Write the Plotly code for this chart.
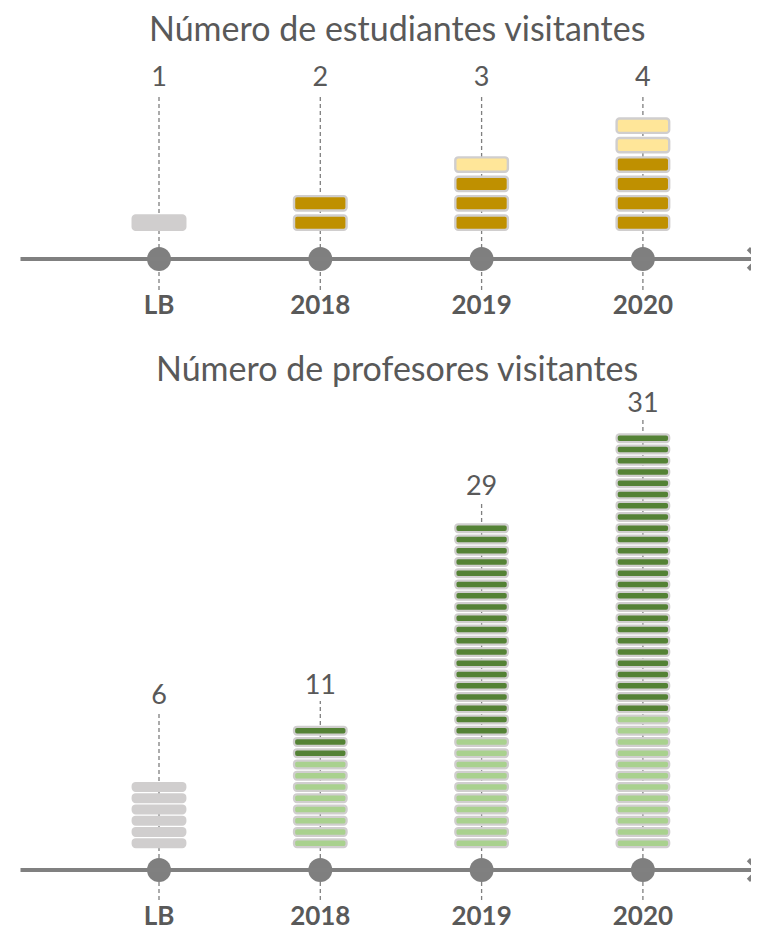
import plotly.graph_objects as go

# ---------------- data ----------------
categories = ["LB", "2018", "2019", "2020"]

# Número de estudiantes visitantes
est_labels = [1, 2, 3, 4]
est_gray = [1, 0, 0, 0]     # línea base
est_dark = [0, 2, 3, 4]
est_light = [0, 0, 1, 2]

# Número de profesores visitantes
prof_labels = [6, 11, 29, 31]
prof_gray = [6, 0, 0, 0]    # línea base
prof_light = [0, 8, 10, 12]
prof_dark = [0, 3, 19, 25]

# ---------------- style ----------------
OFF = 8                      # page body margin
W, H = 759 - OFF, 929 - OFF
FONT = "Lato"
TXT = "#595959"
AXC = "#808080"
GRAY = "#d0cece"
BORDER = "#d0cece"
X0_PX, X_STEP = 159 - OFF, 161.3
x_lo = -X0_PX / X_STEP
x_hi = x_lo + W / X_STEP


def x_of_px(px):
    return x_lo + (px - OFF) / X_STEP


panels = [
    dict(title="Número de estudiantes visitantes", title_px=27,
         axis_px=259, pitch=19.4, base0=1.5, bar_h=0.74, lw=2.4,
         groups=[(est_gray, GRAY), (est_dark, "#bf9000"), (est_light, "#ffe699")],
         labels=est_labels, label_mode="fixed", label_px=79,
         dash_bottom_px=290, dash_top_px=97, cat_px=307,
         xa="x", ya="y"),
    dict(title="Número de profesores visitantes", title_px=368,
         axis_px=870, pitch=11.25, base0=2.04, bar_h=0.69, lw=2.25,
         groups=[(prof_gray, GRAY), (prof_light, "#a9d18e"), (prof_dark, "#548235")],
         labels=prof_labels, label_mode="stack", label_off=[7.34, 3.23, 2.92, 2.29],
         dash_bottom_px=900, cat_px=918,
         xa="x2", ya="y2"),
]

fig = go.Figure()
shapes = []
annotations = []
n_cat = len(categories)
xs_cat = list(range(n_cat))

for p in panels:
    yfun = (lambda px, p=p: (p["axis_px"] - px) / p["pitch"])
    # stacked blocks
    totals = [0] * n_cat
    for counts, color in p["groups"]:
        bx, bb = [], []
        for i in range(n_cat):
            for _ in range(counts[i]):
                bx.append(i)
                bb.append(p["base0"] + totals[i])
                totals[i] += 1
        if bx:
            fig.add_trace(go.Bar(
                x=bx, y=[p["bar_h"]] * len(bx), base=bb, width=0.326,
                marker=dict(color=color, line=dict(color=BORDER, width=p["lw"]),
                            cornerradius=3),
                xaxis=p["xa"], yaxis=p["ya"], hoverinfo="skip", showlegend=False))
    # label positions
    if p["label_mode"] == "fixed":
        label_y = [yfun(p["label_px"])] * n_cat
    else:
        label_y = [p["base0"] + totals[i] + p["label_off"][i] for i in range(n_cat)]
    # dashed guide lines
    for i in range(n_cat):
        if p["label_mode"] == "fixed":
            top = yfun(p["dash_top_px"])
        else:
            top = label_y[i] - 14 / p["pitch"]
        shapes.append(dict(type="line", xref=p["xa"], yref=p["ya"],
                           x0=i, x1=i, y0=yfun(p["dash_bottom_px"]), y1=top,
                           line=dict(color="#7f7f7f", width=1.3, dash="4px,3px"),
                           layer="below"))
    # timeline axis with arrow
    annotations.append(dict(xref=p["xa"], yref=p["ya"], axref=p["xa"], ayref=p["ya"],
                            x=x_of_px(762), y=0, ax=x_of_px(19), ay=0, text="",
                            showarrow=True, arrowhead=4, arrowsize=1, arrowwidth=4,
                            arrowcolor=AXC, standoff=0, startstandoff=0))
    # circles
    fig.add_trace(go.Scatter(x=xs_cat, y=[0] * n_cat, mode="markers",
                             marker=dict(size=24, color="#7f7f7f"),
                             xaxis=p["xa"], yaxis=p["ya"], hoverinfo="skip",
                             showlegend=False))
    # value labels
    fig.add_trace(go.Scatter(x=xs_cat, y=label_y, mode="text",
                             text=[str(v) for v in p["labels"]],
                             textfont=dict(family=FONT, size=27, color=TXT),
                             textposition="middle center",
                             xaxis=p["xa"], yaxis=p["ya"], hoverinfo="skip",
                             showlegend=False, cliponaxis=False))
    # category labels
    fig.add_trace(go.Scatter(x=xs_cat, y=[yfun(p["cat_px"])] * n_cat, mode="text",
                             text=categories,
                             textfont=dict(family=FONT, size=26, color=TXT, weight="bold"),
                             textposition="middle center",
                             xaxis=p["xa"], yaxis=p["ya"], hoverinfo="skip",
                             showlegend=False, cliponaxis=False))
    # title
    annotations.append(dict(xref="paper", yref="paper", x=(397 - OFF) / W,
                            y=1 - (p["title_px"] - OFF) / H, xanchor="center",
                            yanchor="middle", text=p["title"], showarrow=False,
                            font=dict(family=FONT, size=34, color=TXT)))


def yrange(p):
    hi = (p["axis_px"] - OFF) / p["pitch"]
    return [hi - H / p["pitch"], hi]


axis_common = dict(visible=False, fixedrange=True)
fig.update_layout(
    width=W, height=H, autosize=False,
    margin=dict(l=0, r=0, t=0, b=0),
    paper_bgcolor="white", plot_bgcolor="rgba(0,0,0,0)",
    barmode="overlay", showlegend=False,
    xaxis=dict(domain=[0, 1], range=[x_lo, x_hi], anchor="y", **axis_common),
    yaxis=dict(domain=[0, 1], range=yrange(panels[0]), anchor="x", **axis_common),
    xaxis2=dict(domain=[0, 1], range=[x_lo, x_hi], anchor="y2", **axis_common),
    yaxis2=dict(domain=[0, 1], range=yrange(panels[1]), anchor="x2", **axis_common),
    shapes=shapes, annotations=annotations,
)

fig.write_html("out.html")
